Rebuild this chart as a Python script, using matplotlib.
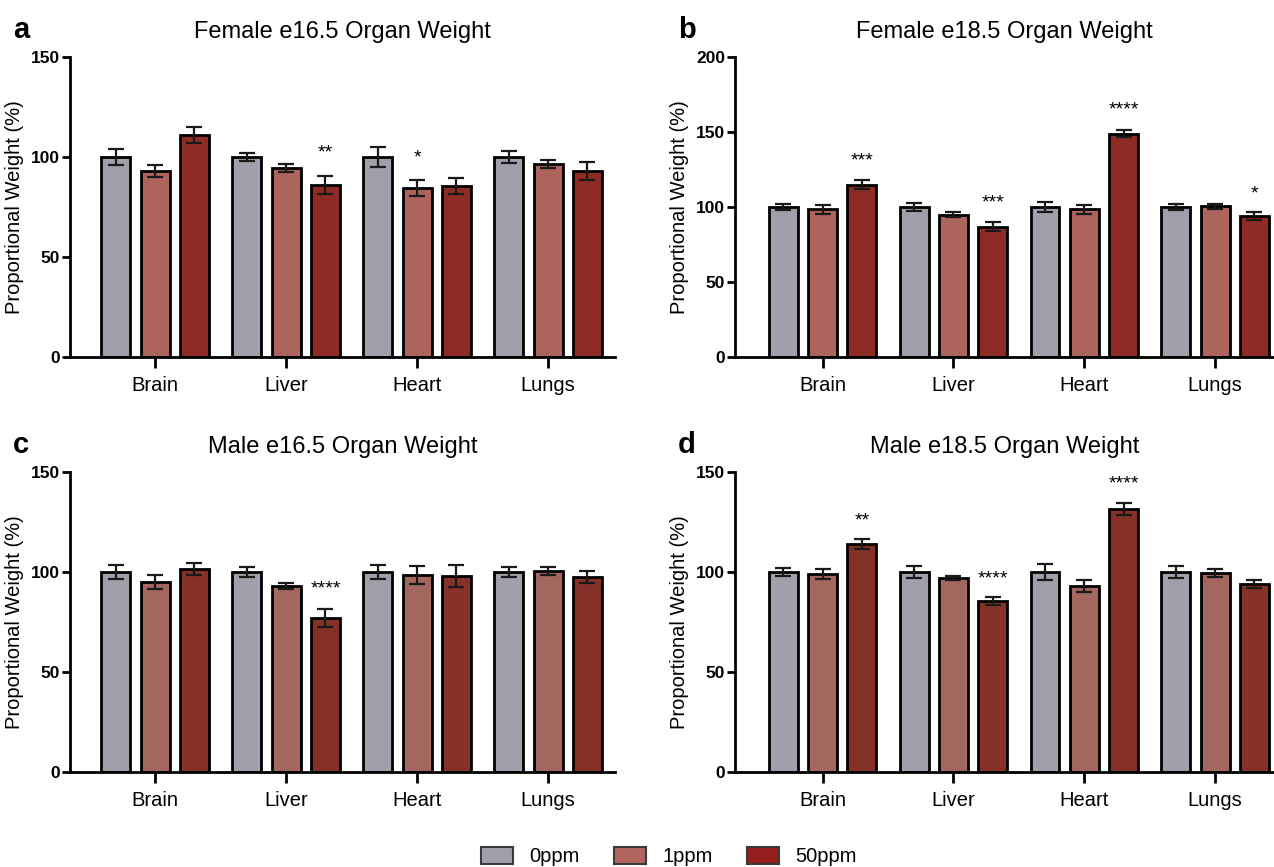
import matplotlib
matplotlib.use("Agg")
import matplotlib.pyplot as plt
from matplotlib.patches import Patch
import numpy as np

plt.rcParams['font.family'] = ['Liberation Sans', 'DejaVu Sans']

ORGANS = ["Brain", "Liver", "Heart", "Lungs"]
DOSES = ["0ppm", "1ppm", "50ppm"]

# Female e16.5
fa_mean = [[100, 100, 100, 100], [93, 94.5, 84.5, 96.5], [111, 86, 85.5, 93]]
fa_err = [[4, 2, 5, 3], [3, 2, 4, 2], [4, 4.5, 4, 4.5]]
fa_stars = [(1, 2, "**", 102), (2, 1, "*", 99.5)]

# Female e18.5
fb_mean = [[100, 100, 100, 100], [98.5, 95, 98.5, 100.5], [115, 87, 149, 94]]
fb_err = [[2, 2.5, 3.5, 2], [3, 1.5, 3, 1.5], [3, 3, 2.5, 2.5]]
fb_stars = [(0, 2, "***", 131), (1, 2, "***", 103), (2, 2, "****", 165), (3, 2, "*", 109)]

# Male e16.5
mc_mean = [[100, 100, 100, 100], [95, 93, 98.5, 100.5], [101.5, 77, 98, 97.5]]
mc_err = [[3.5, 2.5, 3.5, 2.5], [3.5, 1.5, 4.3, 2], [3, 4.5, 5.5, 2.8]]
mc_stars = [(1, 2, "****", 91.5)]

# Male e18.5
md_mean = [[100, 100, 100, 100], [99, 97, 93, 99.5], [114, 85.5, 131.5, 94]]
md_err = [[2, 3, 4, 3], [2.5, 1, 3, 1.8], [2.5, 2, 3, 2]]
md_stars = [(0, 2, "**", 125.5), (1, 2, "****", 96.5), (2, 2, "****", 144)]

FEMALE_COLORS = ["#a0a0aa", "#ad645d", "#8e2b25"]
MALE_COLORS = ["#a0a0aa", "#a3675f", "#843128"]
LEGEND_COLORS = ["#a0a0aa", "#b0655e", "#951f1d"]


def draw_panel(ax, means, errs, stars, colors, title, ymax, ystep, xlim):
    width = 0.22
    step = 0.3
    x = np.arange(len(ORGANS))
    for i in range(len(DOSES)):
        ax.bar(x + (i - 1) * step, means[i], width=width, color=colors[i],
               edgecolor="black", linewidth=2, zorder=2)
        ax.errorbar(x + (i - 1) * step, means[i], yerr=errs[i], fmt="none",
                    ecolor="#1a1a1a", elinewidth=1.6, capsize=6, capthick=1.6, zorder=3)
    for g, s, txt, yv in stars:
        ax.text(g + (s - 1) * step, yv, txt, ha="center", va="center", fontsize=14)
    ax.set_xlim(*xlim)
    ax.set_ylim(0, ymax)
    ax.set_yticks(np.arange(0, ymax + 1, ystep))
    ax.set_xticks(x)
    ax.set_xticklabels(ORGANS, fontsize=14.5)
    for lab in ax.get_yticklabels():
        lab.set_fontweight("bold")
        lab.set_fontsize(12.5)
        lab.set_family(["Liberation Sans Narrow", "Liberation Sans"])
    ax.spines["top"].set_visible(False)
    ax.spines["right"].set_visible(False)
    ax.spines["left"].set_linewidth(2)
    ax.spines["bottom"].set_linewidth(2)
    ax.tick_params(axis="y", direction="out", length=6, width=2, pad=1)
    ax.tick_params(axis="x", direction="out", length=8, width=2, pad=6)
    ax.set_ylabel("Proportional Weight (%)", fontsize=14.5, labelpad=5)
    ax.set_title(title, fontsize=17, pad=14)


fig = plt.figure(figsize=(12.74, 8.67), dpi=100)
ax_a = fig.add_axes([0.0549, 0.5882, 0.4278, 0.3460])
ax_b = fig.add_axes([0.5769, 0.5882, 0.4231, 0.3460])
ax_c = fig.add_axes([0.0549, 0.1096, 0.4278, 0.3460])
ax_d = fig.add_axes([0.5769, 0.1096, 0.4231, 0.3460])

draw_panel(ax_a, fa_mean, fa_err, fa_stars, FEMALE_COLORS, "Female e16.5 Organ Weight", 150, 50, (-0.65, 3.51))
draw_panel(ax_b, fb_mean, fb_err, fb_stars, FEMALE_COLORS, "Female e18.5 Organ Weight", 200, 50, (-0.67, 3.45))
draw_panel(ax_c, mc_mean, mc_err, mc_stars, MALE_COLORS, "Male e16.5 Organ Weight", 150, 50, (-0.65, 3.51))
draw_panel(ax_d, md_mean, md_err, md_stars, MALE_COLORS, "Male e18.5 Organ Weight", 150, 50, (-0.67, 3.45))

for letter, xf, yf in [("a", 0.010, 0.965), ("b", 0.532, 0.965), ("c", 0.010, 0.487), ("d", 0.532, 0.487)]:
    fig.text(xf, yf, letter, fontsize=21, fontweight="bold", ha="left", va="center")

handles = [Patch(facecolor=c, edgecolor="#3a3a3a", linewidth=1.5) for c in LEGEND_COLORS]
fig.legend(handles, DOSES, loc="center", bbox_to_anchor=(0.525, 0.012), ncol=3, frameon=False,
           fontsize=14.5, handlelength=1.6, handleheight=0.9, handletextpad=0.8, columnspacing=1.7)

fig.savefig("out.png", dpi=100)
